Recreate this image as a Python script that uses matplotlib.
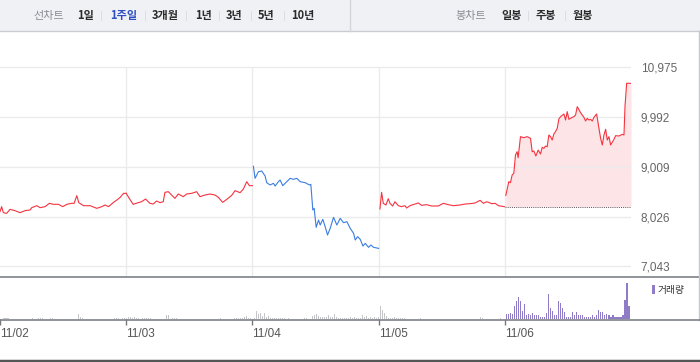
import matplotlib
matplotlib.use("Agg")
import matplotlib.pyplot as plt
from matplotlib.lines import Line2D
from matplotlib.patches import Rectangle, Patch
import numpy as np

plt.rcParams['font.family'] = ['Noto Sans CJK KR', 'DejaVu Sans']

# ---------------- data ----------------
day_labels = ['11/02', '11/03', '11/04', '11/05', '11/06']
session_len = 378          # intraday position units per session
y_ticks = [7043, 8026, 9009, 9992, 10975]
prev_close_last = 8221     # previous close for the last session (dotted line)

d1_t = [0,5,10,20,30,45,60,75,90,95,110,120,135,148,160,175,188,200,215,222,230,236,250,270,290,305,315,325,340,350,360,370,378]
d1_v = [8122,8221,8102,8089,8168,8142,8102,8142,8155,8201,8240,8201,8221,8287,8267,8267,8221,8267,8287,8287,8438,8300,8240,8240,8188,8221,8254,8221,8306,8352,8405,8484,8484]

d2_t = [0,11,21,36,46,58,71,81,91,101,111,116,126,136,146,156,171,181,196,211,221,236,251,266,276,289,301,316,326,341,351,361,369,378]
d2_v = [8484,8365,8267,8300,8319,8372,8287,8273,8333,8300,8319,8504,8517,8451,8385,8471,8418,8471,8484,8517,8418,8451,8471,8451,8405,8306,8365,8444,8537,8497,8570,8715,8636,8636]

d3_t = [3,8,18,28,38,43,53,63,68,78,83,91,103,113,123,133,143,158,171,175,181,185,191,198,203,211,218,225,233,243,253,263,273,283,293,303,308,315,323,331,338,348,355,363,378]
d3_v = [9018,8780,8912,8925,8827,8695,8649,8682,8629,8715,8748,8636,8715,8780,8761,8780,8715,8695,8649,8662,8155,8188,7812,7957,7858,7970,7825,7661,7793,8010,7858,7990,7904,7924,7793,7694,7562,7628,7575,7443,7496,7417,7463,7417,7397]

d4_t = [4,9,14,22,29,34,42,49,59,69,79,84,94,109,119,129,144,159,179,194,209,224,244,259,274,289,304,314,324,339,349,359,377]
d4_v = [8175,8504,8287,8254,8379,8287,8234,8319,8240,8221,8240,8194,8240,8273,8293,8247,8260,8234,8234,8287,8260,8240,8254,8273,8280,8293,8346,8287,8319,8280,8287,8240,8221]

d5_t = [3,7,12,17,22,27,32,37,40,47,57,67,77,82,87,93,100,107,112,117,122,127,132,137,142,147,152,157,162,167,177,182,187,192,202,207,212,217,227,237,242,247,252,257,262,267,275,282,287,292,297,302,307,312,317,327,332,342,352,357,360,365,378]
d5_v = [8444,8563,8715,8695,8846,8879,9242,9307,9189,9604,9584,9604,9571,9307,9321,9222,9340,9261,9393,9373,9419,9406,9637,9604,9538,9657,9703,9768,9953,9999,10052,9933,10098,9946,9986,9999,10032,10197,10078,9986,9913,9966,9933,9946,9913,9986,10052,9768,9571,9439,9637,9749,9538,9604,9439,9551,9624,9617,9650,9637,10197,10658,10658]

day_colors = ['#f5333f', '#f5333f', '#3b7de0', '#f5333f', '#f5333f']

vol1 = [0,5,3,3,0,0,0,0,0,0, 0,0,2,0,0,3,2,0,5,3, 3,0,0,0,5,3,0,2,0,0,
        0,2,0,0,0,0,0,0,16,8, 3,2,0,0,0,0,2,0,0,0, 0,0,0,0,2,0,3,3,3,2, 3,5,3]
vol2 = [8,8,5,6,5,3,0,3,3,3, 3,3,0,0,0,0,0,0,0,12, 12,0,5,3,3,0,0,0,0,0,
        0,0,0,2,0,0,0,0,0,0, 0,0,0,2,0,2,3,0,0,0, 0,0,0,3,3,3,3,5,6,10, 5,3,0]
vol3 = [3,25,16,19,10,19,8,10,5,3, 3,3,3,3,3,3,2,3,2,2, 0,2,0,0,0,3,3,0,0,10,
        14,16,10,6,6,6,6,13,8,6, 16,6,3,3,3,5,3,5,6,3, 8,3,3,3,13,8,10,5,6,5, 6,5,6]
vol4 = [39,27,19,10,3,5,3,6,3,3, 3,3,3,2,0,0,0,0,0,0, 5,2,0,0,0,0,0,0,0,0,
        0,0,0,0,0,0,0,2,0,0, 0,0,0,0,0,0,0,0,0,0, 8,3,0,0,0,0,0,0,2,0, 3,0,0]
vol5 = [16,16,19,16,39,54,66,54,24,46, 12,16,12,19,12,12,12,8,8,8, 19,76,34,24,12,12,54,49,34,22,
        8,8,8,22,12,22,12,14,12,8, 8,6,8,12,8,12,29,22,22,12, 16,12,8,12,8,8,8,8,12,57, 109,41,2]
vol_colors = ['#c4c5c9', '#c4c5c9', '#c4c5c9', '#c4c5c9', '#8e7cc6']
vol_label = '거래량'

header_left = ['1일', '1주일', '3개월', '1년', '3년', '5년', '10년']
header_right = ['일봉', '주봉', '월봉']

# ---------------- figure ----------------
W, H = 700, 362
fig = plt.figure(figsize=(W / 100, H / 100), dpi=100)
fig.patch.set_facecolor('white')

def fx(px):
    return px / W

def fy(py):
    return 1 - py / H

# header
fig.add_artist(Rectangle((0, fy(30.5)), 1, 30.5 / H, transform=fig.transFigure,
                         facecolor='#f0f1f5', edgecolor='none', zorder=0))
fig.add_artist(Line2D([0, 1], [fy(30.5), fy(30.5)], transform=fig.transFigure, color='#c9ccd2', lw=1))
fig.add_artist(Line2D([fx(350), fx(350)], [fy(0), fy(30.5)], transform=fig.transFigure, color='#d3d5da', lw=1))

hfont = dict(family=['Noto Sans CJK KR', 'DejaVu Sans'], fontsize=8, va='center', ha='left')
ty = fy(15.5)
fig.text(fx(33), ty, '선차트', color='#8a8c92', **hfont)
left_x = [77, 110, 152, 195, 226, 258, 291]
sep_left = [101, 145, 186, 219, 251, 284]
for i, (lab, x) in enumerate(zip(header_left, left_x)):
    fig.text(fx(x), ty, lab, color=('#2e4fc0' if lab == '1주일' else '#2b2b2b'),
             fontweight='bold', **hfont)
for x in sep_left:
    fig.add_artist(Line2D([fx(x), fx(x)], [fy(11), fy(20)], transform=fig.transFigure,
                          color='#dcdee2', lw=0.7))
fig.text(fx(455), ty, '봉차트', color='#8a8c92', **hfont)
right_x = [501, 536, 573]
for lab, x in zip(header_right, right_x):
    fig.text(fx(x), ty, lab, color='#2b2b2b', fontweight='bold', **hfont)
for x in [528, 565]:
    fig.add_artist(Line2D([fx(x), fx(x)], [fy(11), fy(20)], transform=fig.transFigure,
                          color='#dcdee2', lw=0.7))

# ---------------- price axes ----------------
plot_right = 631
ax = fig.add_axes([0, fy(276.7), fx(plot_right), (276.7 - 32) / H])
ax.set_xlim(0, len(day_labels))
ax.set_ylim(6837, 11672)
for s in ax.spines.values():
    s.set_visible(False)

days_t = [d1_t, d2_t, d3_t, d4_t, d5_t]
days_v = [d1_v, d2_v, d3_v, d4_v, d5_v]
for d, (t, v) in enumerate(zip(days_t, days_v)):
    x = d + np.array(t) / session_len
    ax.plot(x, v, color=day_colors[d], lw=0.8, zorder=3, solid_joinstyle='round')
    if d == len(day_labels) - 1:
        ax.fill_between(x, v, prev_close_last, color='#fde4e7', lw=0, zorder=1)
        ax.hlines(prev_close_last, d, d + 1, colors='#555555', linestyles=(0, (1, 1.2)),
                  lw=0.7, zorder=2)

ax.set_yticks(y_ticks)
ax.set_yticklabels([f'{v:,}' for v in y_ticks])
ax.yaxis.tick_right()
ax.tick_params(axis='y', length=0, pad=7, labelsize=8.5, labelcolor='#666666')
for lbl in ax.get_yticklabels():
    lbl.set_family(['Liberation Sans', 'DejaVu Sans'])
ax.set_xticks([])
ax.grid(axis='y', color='#ebebeb', lw=1, zorder=0)
ax.vlines(range(1, len(day_labels)), ax.get_ylim()[0], y_ticks[-1], colors='#ebebeb', lw=1, zorder=0)

# separators / borders
fig.add_artist(Line2D([0, 1], [fy(277), fy(277)], transform=fig.transFigure, color='#7d8086', lw=1.2))
fig.add_artist(Line2D([fx(698.8), fx(698.8)], [fy(30.5), fy(319.5)], transform=fig.transFigure,
                      color='#c6c8cc', lw=1))

# ---------------- volume axes ----------------
axv = fig.add_axes([0, fy(319.3), fx(plot_right), (319.3 - 278) / H])
axv.set_xlim(0, len(day_labels))
axv.set_ylim(0, 124)
for s in axv.spines.values():
    s.set_visible(False)
vols = [vol1, vol2, vol3, vol4, vol5]
n_slots = len(vol1)
for d, vv in enumerate(vols):
    xs = d + (np.arange(n_slots) + 1) / n_slots
    axv.bar(xs, vv, width=0.0085, color=vol_colors[d], lw=0, align='center')
axv.set_yticks([])
axv.set_xticks(range(len(day_labels)))
axv.set_xticklabels(day_labels)
axv.tick_params(axis='x', length=4, width=1, color='#777777', pad=2, labelsize=8.5,
                labelcolor='#555555')
for lbl in axv.get_xticklabels():
    lbl.set_horizontalalignment('left')
    lbl.set_family(['Liberation Sans', 'DejaVu Sans'])

fig.add_artist(Line2D([0, 1], [fy(319.5), fy(319.5)], transform=fig.transFigure, color='#7d8086', lw=1.2))
fig.add_artist(Line2D([0, 1], [fy(361), fy(361)], transform=fig.transFigure, color='#555555', lw=2.5))

axv.legend(handles=[Patch(facecolor=vol_colors[-1], edgecolor='none')], labels=[vol_label],
           loc='center left', bbox_to_anchor=(fx(652), fy(289.5)), bbox_transform=fig.transFigure,
           frameon=False, handlelength=0.3, handleheight=1.0, handletextpad=0.25,
           borderpad=0, borderaxespad=0,
           prop=dict(family=['Noto Sans CJK KR', 'DejaVu Sans'], size=7))
for t in axv.get_legend().get_texts():
    t.set_color('#333333')

fig.savefig('out.png', dpi=100)
